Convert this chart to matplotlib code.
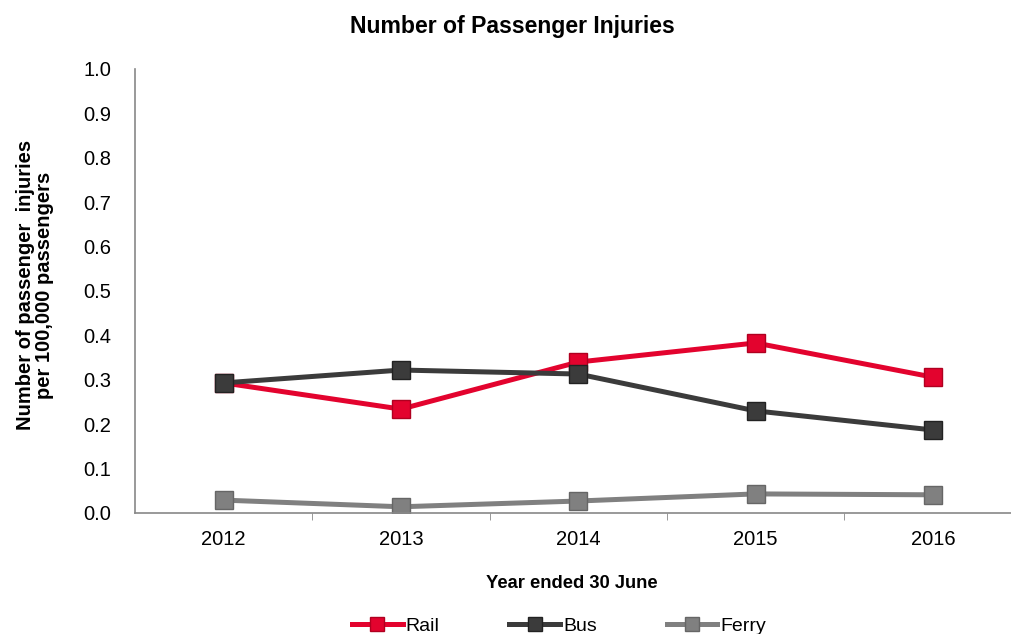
import matplotlib
matplotlib.use("Agg")
import matplotlib.pyplot as plt

plt.rcParams['font.family'] = ['Liberation Sans', 'DejaVu Sans']

years = ["2012", "2013", "2014", "2015", "2016"]
rail = [0.293, 0.234, 0.340, 0.383, 0.306]
bus = [0.293, 0.322, 0.313, 0.230, 0.187]
ferry = [0.029, 0.014, 0.027, 0.043, 0.041]

series = [("Rail", rail, "#e3032e", "#b00020"),
          ("Bus", bus, "#3b3b3b", "#222222"),
          ("Ferry", ferry, "#808080", "#666666")]

fig = plt.figure(figsize=(10.12, 6.34), dpi=100)
ax = fig.add_axes([135 / 1012, 1 - 513 / 634, (1012 - 135) / 1012, (513 - 69) / 634])

x = list(range(len(years)))
for name, vals, col, edge in series:
    ax.plot(x, vals, color=col, lw=3.6, marker='s', markersize=13.5,
            markerfacecolor=col, markeredgecolor=edge, markeredgewidth=1, label=name)

ax.set_xlim(-0.5, 4.446)
ax.set_ylim(0, 1.0)
ax.set_yticks([i / 10 for i in range(11)])
ax.set_yticklabels(["%.1f" % (i / 10) for i in range(11)], fontsize=14.5)
ax.set_xticks(x)
ax.set_xticklabels(years, fontsize=14.5)
ax.set_xticks([i + 0.5 for i in range(4)], minor=True)
ax.tick_params(axis='x', which='major', length=0, pad=12)
ax.tick_params(axis='x', which='minor', length=5, color='#888888', direction='out')
ax.tick_params(axis='y', length=0, pad=17)

for s in ['top', 'right']:
    ax.spines[s].set_visible(False)
for s in ['left', 'bottom']:
    ax.spines[s].set_color('#888888')
    ax.spines[s].set_linewidth(1.2)

fig.text(512 / 1012, 1 - 27 / 634, "Number of Passenger Injuries", ha='center', va='center',
         fontsize=16.6, fontweight='bold')
fig.text(35 / 1012, 1 - 285 / 634, "Number of passenger  injuries\nper 100,000 passengers",
         ha='center', va='center', rotation=90, fontsize=14.5, fontweight='bold', linespacing=1.05)
fig.text(572 / 1012, 1 - 584 / 634, "Year ended 30 June", ha='center', va='center',
         fontsize=13.2, fontweight='bold')

fig.legend(loc='center', bbox_to_anchor=(559 / 1012, 1 - 626 / 634), ncol=3, frameon=False,
           fontsize=14, handlelength=2.6, handletextpad=0.15, columnspacing=3.6, markerscale=0.75)

fig.savefig("out.png", dpi=100)
